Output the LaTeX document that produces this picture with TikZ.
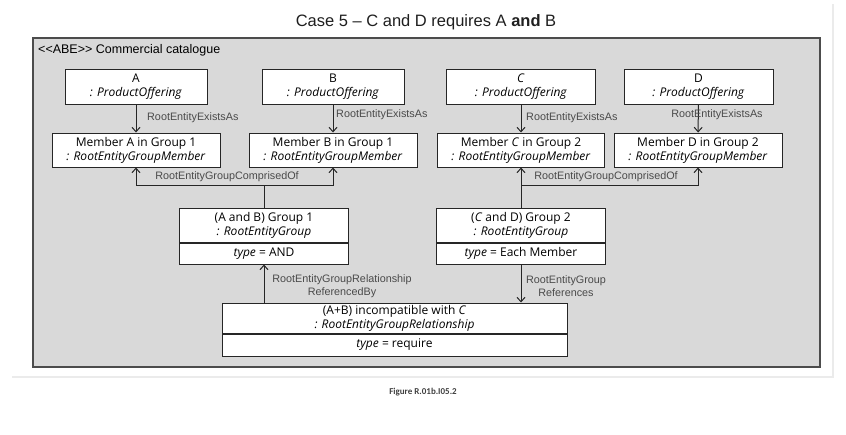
\documentclass[tikz,border=0pt]{standalone}
\usepackage{fontspec}
\setmainfont{Liberation Sans}
\newfontfamily\boxfont{Open Sans}
\newfontfamily\capfont{Carlito}
\usetikzlibrary{arrows.meta,positioning}
\definecolor{framegrey}{HTML}{D9D9D9}
\definecolor{labelgrey}{HTML}{4A4A4A}
\begin{document}
\begin{tikzpicture}[x=1pt,y=-1pt,
  obj/.style={draw=black!85, fill=white, line width=1pt, inner sep=0pt, align=center,
    font=\boxfont\fontsize{12}{14}\selectfont},
  attr/.style={obj, minimum height=21pt},
  lbl/.style={font=\fontsize{10.8}{13}\selectfont, text=labelgrey, inner sep=0pt, align=center},
  link/.style={draw=black!85, line width=1pt},
  to/.style={link, -{Straight Barb[length=4.5pt,width=8pt]}}]
\useasboundingbox (0,0) rectangle (846,434);
% page and frame
\draw[black!8, line width=1.5pt] (12,377) -- (833,377) -- (833,4);
\draw[black!70, line width=1.3pt, fill=framegrey] (33,38) rectangle (820,367);
\node[font=\fontsize{16.5}{19}\selectfont, text=black!88] (title) at (426,22) {Case 5 -- C and D requires A \textbf{and} B};
\node[font=\fontsize{12.5}{14}\selectfont, anchor=west, inner sep=0pt] (cat) at (38,50) {<{}<ABE>{}> Commercial catalogue};
% product offerings
\node[obj, minimum width=142pt, minimum height=35pt] (offA) at (136,86.5) {A\\\textit{: ProductOffering}};
\node[obj, minimum width=142pt, minimum height=35pt] (offB) at (333,86.5) {B\\\textit{: ProductOffering}};
\node[obj, minimum width=149pt, minimum height=35pt] (offC) at (521,86.5) {\textit{C}\\\textit{: ProductOffering}};
\node[obj, minimum width=149pt, minimum height=35pt] (offD) at (698.5,86.5) {D\\\textit{: ProductOffering}};
% members
\node[obj, minimum width=168pt, minimum height=34pt] (memA) at (136,150) {Member A in Group 1\\\textit{: RootEntityGroupMember}};
\node[obj, minimum width=168pt, minimum height=34pt] (memB) at (333,150) {Member B in Group 1\\\textit{: RootEntityGroupMember}};
\node[obj, minimum width=167pt, minimum height=34pt] (memC) at (521,150) {Member \textit{C} in Group 2\\\textit{: RootEntityGroupMember}};
\node[obj, minimum width=168pt, minimum height=34pt] (memD) at (698,150) {Member D in Group 2\\\textit{: RootEntityGroupMember}};
% groups
\node[obj, minimum width=169pt, minimum height=34pt] (grp1) at (264,225) {(A and B) Group 1\\\textit{: RootEntityGroup}};
\node[attr, minimum width=169pt, below=0pt of grp1] (grp1type) {\textit{type} = AND};
\node[obj, minimum width=169pt, minimum height=34pt] (grp2) at (521,225) {(\textit{C} and D) Group 2\\\textit{: RootEntityGroup}};
\node[attr, minimum width=169pt, below=0pt of grp2] (grp2type) {\textit{type} = Each Member};
% relationship
\node[obj, minimum width=345pt, minimum height=30pt] (rel) at (394.5,318) {(A+B) incompatible with \textit{C}\\\textit{: RootEntityGroupRelationship}};
\node[attr, minimum width=345pt, minimum height=22pt, below=0pt of rel] (reltype) {\textit{type} = require};
% exists as
\draw[to] (offA) -- (memA);
\draw[to] (offB) -- (memB);
\draw[to] (offC) -- (memC);
\draw[to] (offD) -- (memD);
\node[lbl, anchor=west] (exA) at (147,118) {RootEntityExistsAs};
\node[lbl, anchor=west] (exB) at (336,115) {RootEntityExistsAs};
\node[lbl, anchor=west] (exC) at (526,118) {RootEntityExistsAs};
\node[lbl] (exD) at (717,115) {RootEntityExistsAs};
% comprised of
\coordinate (split1) at (264,185);
\coordinate (split2) at (521,185);
\draw[link] (grp1) -- (split1);
\draw[to] (split1) -| (memA);
\draw[to] (split1) -| (memB);
\draw[to] (grp2) -- (memC);
\draw[to] (split2) -| (memD);
\node[lbl] (compA) at (227,177) {RootEntityGroupComprisedOf};
\node[lbl] (compC) at (606,177) {RootEntityGroupComprisedOf};
% references
\draw[to] (rel.north -| grp1type.south) -- (grp1type.south);
\draw[to] (grp2type.south) -- (grp2type.south |- rel.north);
\node[lbl] (refBy) at (342,286.5) {RootEntityGroupRelationship\\ReferencedBy};
\node[lbl] (refs) at (566,286.5) {RootEntityGroup\\References};
\node[font=\capfont\bfseries\fontsize{9}{11}\selectfont, text=black!75] (caption) at (423,392) {Figure R.01b.I05.2};
\end{tikzpicture}
\end{document}
